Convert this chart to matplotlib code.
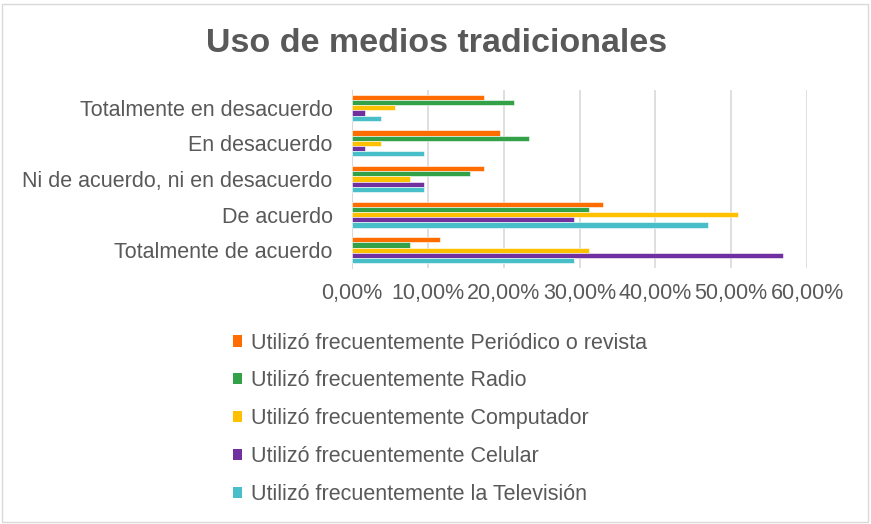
import matplotlib.pyplot as plt
from matplotlib.patches import Patch, Rectangle
from matplotlib.ticker import FuncFormatter

plt.rcParams['font.family'] = ['Liberation Sans', 'DejaVu Sans']

# categories top to bottom, as shown
categories = ['Totalmente en desacuerdo', 'En desacuerdo',
              'Ni de acuerdo, ni en desacuerdo', 'De acuerdo',
              'Totalmente de acuerdo']

series = ['Utilizó frecuentemente Periódico o revista',
          'Utilizó frecuentemente Radio',
          'Utilizó frecuentemente Computador',
          'Utilizó frecuentemente Celular',
          'Utilizó frecuentemente la Televisión']

# shares per category, same order as categories
periodico = [0.174, 0.195, 0.174, 0.331, 0.116]
radio = [0.214, 0.233, 0.155, 0.312, 0.076]
computador = [0.057, 0.038, 0.076, 0.509, 0.312]
celular = [0.017, 0.017, 0.095, 0.293, 0.569]
television = [0.038, 0.095, 0.095, 0.469, 0.293]

values = [periodico, radio, computador, celular, television]
colours = ['#FF6D00', '#33A148', '#FFC000', '#7030A0', '#48BEC8']
text_col = '#595959'
fs = 15.5

W, H = 871, 524
fig = plt.figure(figsize=(W / 100, H / 100), dpi=100)

# light chart border
fig.patches.append(Rectangle((2 / W, 2 / H), 866 / W, 518 / H, transform=fig.transFigure,
                             fill=False, edgecolor='#d9d9d9', linewidth=1))

ax = fig.add_axes([352 / W, 1 - 268 / H, (807 - 352) / W, (268 - 90) / H])

h = 0.146
for j, vals in enumerate(values):
    ys = [i + (j - 2) * h for i in range(len(categories))]
    ax.barh(ys, vals, height=h, color=colours[j], edgecolor='white', linewidth=0.4, zorder=3)

ax.set_xlim(0, 0.6)
ax.set_ylim(len(categories) - 0.5, -0.5)
ax.set_xticks([0, 0.1, 0.2, 0.3, 0.4, 0.5, 0.6])
ax.xaxis.set_major_formatter(FuncFormatter(lambda v, p: f'{v * 100:.2f}%'.replace('.', ',')))
ax.set_yticks(range(len(categories)))
ax.set_yticklabels(categories)
ax.grid(axis='x', color='#d9d9d9', linewidth=1.2, zorder=0)
for s in ['top', 'right', 'bottom']:
    ax.spines[s].set_visible(False)
ax.spines['left'].set_color('#d9d9d9')
ax.tick_params(axis='both', length=0, labelsize=fs, labelcolor=text_col)
ax.tick_params(axis='x', pad=11)
ax.tick_params(axis='y', pad=14)

fig.text(437 / W, 1 - 44 / H, 'Uso de medios tradicionales', ha='center', va='center',
         fontsize=24.5, fontweight='bold', color=text_col)

handles = [Patch(facecolor=c, edgecolor='none') for c in colours]
leg = fig.legend(handles, series, loc='upper left', bbox_to_anchor=(224 / W, 1 - 324 / H),
                 frameon=False, fontsize=fs, handlelength=0.42, handleheight=0.42,
                 handletextpad=0.45, labelspacing=0.78, borderaxespad=0)
for t in leg.get_texts():
    t.set_color(text_col)

fig.savefig('out.png', dpi=100)
